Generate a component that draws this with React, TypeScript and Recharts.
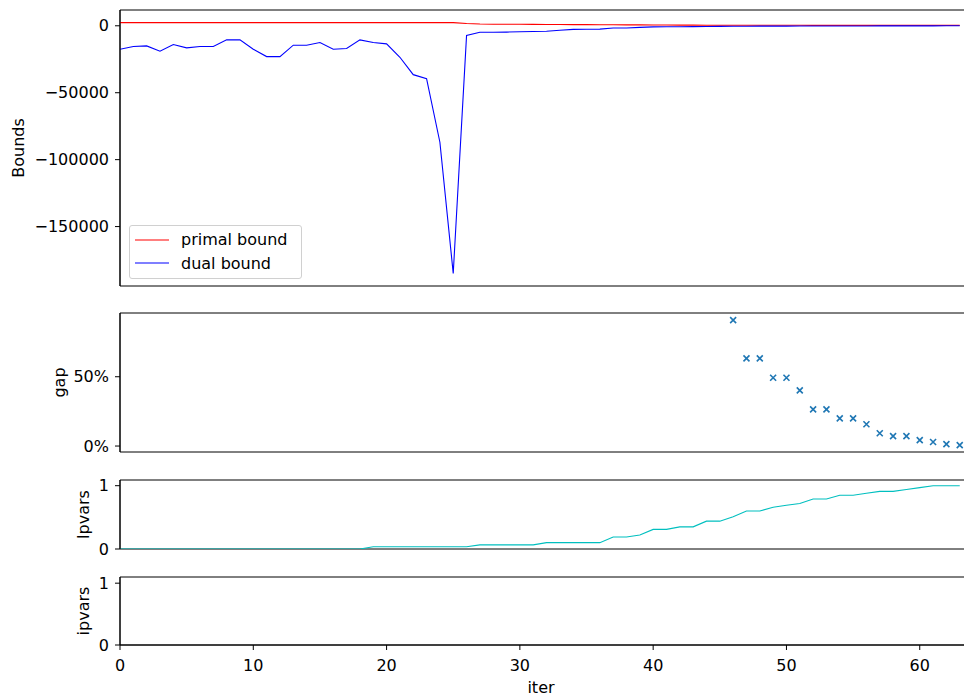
import React from 'react';
import {
  LineChart,
  Line,
  ScatterChart,
  Scatter,
  XAxis,
  YAxis,
  ReferenceArea,
  Legend,
} from 'recharts';

// iterations 0..63
const ITERS = Array.from({ length: 64 }, (_, i) => i);

const PRIMAL_BOUND = [
  2400, 2400, 2400, 2400, 2400, 2400, 2400, 2400, 2400, 2400,
  2400, 2400, 2400, 2400, 2400, 2400, 2400, 2400, 2400, 2400,
  2400, 2400, 2400, 2400, 2400, 2400, 1700, 1300, 1200, 1150,
  1100, 1050, 1000, 950, 900, 850, 800, 750, 700, 650,
  600, 550, 500, 480, 460, 440, 420, 400, 390, 380,
  370, 360, 350, 340, 330, 320, 310, 300, 300, 290,
  290, 280, 280, 280,
];

const DUAL_BOUND = [
  -17500, -15500, -15000, -19000, -14000, -16500, -15500, -15500, -10500, -10500,
  -17500, -23000, -23000, -14500, -14500, -12500, -17500, -17000, -10500, -12500,
  -13500, -23500, -36500, -39500, -87000, -185000, -7200, -4800, -4800, -4700,
  -4500, -4300, -4100, -3300, -2700, -2600, -2500, -1700, -1600, -1200,
  -800, -750, -700, -600, -500, -400, -350, -300, -280, -250,
  -220, -200, -180, -160, -140, -120, -100, -80, -60, -50,
  -40, -30, -20, -10,
];

const GAP_ITERS = [46, 47, 48, 49, 50, 51, 52, 53, 54, 55, 56, 57, 58, 59, 60, 61, 62, 63];
const GAP_PCT = [90.9, 63.3, 63.3, 49.3, 49.3, 40.2, 26.5, 26.5, 20.0, 20.0, 15.7, 9.2, 7.2, 7.2, 4.3, 2.9, 1.4, 0.7];

const LP_VARS = [
  0, 0, 0, 0, 0, 0, 0, 0, 0, 0,
  0, 0, 0, 0, 0, 0, 0, 0, 0, 0.035,
  0.035, 0.035, 0.035, 0.035, 0.035, 0.035, 0.035, 0.065, 0.065, 0.065,
  0.065, 0.065, 0.1, 0.1, 0.1, 0.1, 0.1, 0.19, 0.19, 0.22,
  0.31, 0.31, 0.35, 0.35, 0.44, 0.44, 0.51, 0.6, 0.6, 0.66,
  0.69, 0.72, 0.79, 0.79, 0.85, 0.85, 0.88, 0.91, 0.91, 0.94,
  0.97, 1, 1, 1,
];

const X_TICKS = [0, 10, 20, 30, 40, 50, 60];
const BOUND_TICKS = [0, -50000, -100000, -150000];
const GAP_TICKS = [0, 50];
const VAR_TICKS = [0, 1];
const LEGEND_ORDER = ['primal', 'dual'];

const FONT = '"DejaVu Sans", sans-serif';
// plot runs a little past the right edge of the page, like the cropped original
const X_DOMAIN: [number, number] = [0, 63.47];
const BOUND_DOMAIN: [number, number] = [-194400, 11800];
const GAP_DOMAIN: [number, number] = [-4.3, 96];
const LP_DOMAIN: [number, number] = [0, 1.09];
const IP_DOMAIN: [number, number] = [0, 1.1];
const PAGE_W = 964;
const W = 966;
const AXIS_W = 120;

const boundRows = ITERS.map((i) => ({ iter: i, primal: PRIMAL_BOUND[i], dual: DUAL_BOUND[i] }));
const gapRows = GAP_ITERS.map((it, i) => ({ iter: it, gap: GAP_PCT[i] }));
const varRows = ITERS.map((i) => ({ iter: i, lp: LP_VARS[i] }));

const tickStyle = { fill: '#000', fontSize: 16, fontFamily: FONT };
const axisLine = { stroke: '#000', strokeWidth: 1 };

const minus = (v: number) => (v < 0 ? `\u2212${Math.abs(v)}` : `${v}`);

const yTitle = (text: string, cx: number) => (props: any) => {
  const vb = props.viewBox || {};
  const cy = vb.y + vb.height / 2;
  return (
    <text
      x={cx}
      y={cy}
      transform={`rotate(-90, ${cx}, ${cy})`}
      textAnchor="middle"
      dominantBaseline="central"
      fontFamily={FONT}
      fontSize={16}
      fill="#000"
    >
      {text}
    </text>
  );
};

const XMark = (props: any) => {
  const { cx, cy } = props;
  const r = 3;
  return (
    <path
      d={`M${cx - r},${cy - r}L${cx + r},${cy + r}M${cx - r},${cy + r}L${cx + r},${cy - r}`}
      stroke="#1f77b4"
      strokeWidth={1.6}
      fill="none"
    />
  );
};

const BoundsLegend = (props: any) => {
  const items = [...(props.payload || [])].sort(
    (a: any, b: any) => LEGEND_ORDER.indexOf(a.dataKey) - LEGEND_ORDER.indexOf(b.dataKey)
  );
  return (
    <div
      style={{
        border: '1px solid #d0d0d0',
        borderRadius: 3,
        background: '#fff',
        padding: '2px 14px 3px 5px',
        fontFamily: FONT,
        fontSize: 16,
        color: '#000',
      }}
    >
      {items.map((it: any) => (
        <div key={it.value} style={{ display: 'flex', alignItems: 'center', height: 23.5 }}>
          <svg width={34} height={4} style={{ marginRight: 12 }}>
            <line x1={0} y1={2} x2={34} y2={2} stroke={it.color} strokeWidth={1.2} />
          </svg>
          <span>{it.value}</span>
        </div>
      ))}
    </div>
  );
};

const frame = (yd: [number, number]) => (
  <ReferenceArea
    x1={X_DOMAIN[0]}
    x2={X_DOMAIN[1]}
    y1={yd[0]}
    y2={yd[1]}
    fill="none"
    stroke="#000"
    strokeWidth={1}
    ifOverflow="visible"
  />
);

export default function App() {
  return (
    <div
      style={{
        position: 'absolute',
        left: 0,
        top: 0,
        width: PAGE_W,
        height: 696,
        background: '#fff',
        overflow: 'hidden',
      }}
    >
      {/* Bounds */}
      <div style={{ position: 'absolute', left: 0, top: 0 }}>
        <LineChart width={W} height={287} data={boundRows} margin={{ top: 10, right: 0, bottom: 1, left: 0 }}>
          <XAxis dataKey="iter" type="number" domain={X_DOMAIN} allowDataOverflow hide />
          <YAxis
            width={AXIS_W}
            type="number"
            domain={BOUND_DOMAIN}
            allowDataOverflow
            ticks={BOUND_TICKS}
            interval={0}
            tickFormatter={minus}
            tick={tickStyle}
            tickSize={5}
            tickMargin={6}
            tickLine={axisLine}
            axisLine={axisLine}
            label={yTitle('Bounds', 18)}
          />
          <Line dataKey="primal" name="primal bound" type="linear" stroke="#ff0000" strokeWidth={1.1} dot={false} isAnimationActive={false} />
          <Line dataKey="dual" name="dual bound" type="linear" stroke="#0000ff" strokeWidth={1.1} dot={false} isAnimationActive={false} />
          {frame(BOUND_DOMAIN)}
          <Legend
            layout="horizontal"
            align="center"
            verticalAlign="middle"
            content={<BoundsLegend />}
            wrapperStyle={{ left: 129, top: 225, width: 'auto', height: 'auto' }}
          />
        </LineChart>
      </div>

      {/* gap */}
      <div style={{ position: 'absolute', left: 0, top: 300 }}>
        <ScatterChart width={W} height={164} margin={{ top: 13, right: 0, bottom: 12, left: 0 }}>
          <XAxis dataKey="iter" type="number" domain={X_DOMAIN} allowDataOverflow hide />
          <YAxis
            dataKey="gap"
            width={AXIS_W}
            type="number"
            domain={GAP_DOMAIN}
            allowDataOverflow
            ticks={GAP_TICKS}
            interval={0}
            tickFormatter={(v: number) => `${v}%`}
            tick={tickStyle}
            tickSize={5}
            tickMargin={6}
            tickLine={axisLine}
            axisLine={axisLine}
            label={yTitle('gap', 59)}
          />
          <Scatter data={gapRows} shape={<XMark />} isAnimationActive={false} />
          {frame(GAP_DOMAIN)}
        </ScatterChart>
      </div>

      {/* lpvars */}
      <div style={{ position: 'absolute', left: 0, top: 470 }}>
        <LineChart width={W} height={91} data={varRows} margin={{ top: 10, right: 0, bottom: 12, left: 0 }}>
          <XAxis dataKey="iter" type="number" domain={X_DOMAIN} allowDataOverflow hide />
          <YAxis
            width={AXIS_W}
            type="number"
            domain={LP_DOMAIN}
            allowDataOverflow
            ticks={VAR_TICKS}
            interval={0}
            tick={tickStyle}
            tickSize={5}
            tickMargin={6}
            tickLine={axisLine}
            axisLine={axisLine}
            label={yTitle('lpvars', 83)}
          />
          <Line dataKey="lp" type="linear" stroke="#00bfbf" strokeWidth={1.1} dot={false} isAnimationActive={false} />
          {frame(LP_DOMAIN)}
        </LineChart>
      </div>

      {/* ipvars */}
      <div style={{ position: 'absolute', left: 0, top: 567 }}>
        <LineChart width={W} height={129} data={varRows} margin={{ top: 10, right: 0, bottom: 0, left: 0 }}>
          <XAxis
            dataKey="iter"
            type="number"
            domain={X_DOMAIN}
            allowDataOverflow
            ticks={X_TICKS}
            interval={0}
            height={51}
            tick={tickStyle}
            tickSize={5}
            tickMargin={10}
            tickLine={axisLine}
            axisLine={axisLine}
            label={(props: any) => {
              const vb = props.viewBox || {};
              return (
                <text x={421 + AXIS_W} y={vb.y + 42} textAnchor="middle" dominantBaseline="central" fontFamily={FONT} fontSize={16} fill="#000">
                  iter
                </text>
              );
            }}
          />
          <YAxis
            width={AXIS_W}
            type="number"
            domain={IP_DOMAIN}
            allowDataOverflow
            ticks={VAR_TICKS}
            interval={0}
            tick={tickStyle}
            tickSize={5}
            tickMargin={6}
            tickLine={axisLine}
            axisLine={axisLine}
            label={yTitle('ipvars', 83)}
          />
          {frame(IP_DOMAIN)}
        </LineChart>
      </div>
    </div>
  );
}
